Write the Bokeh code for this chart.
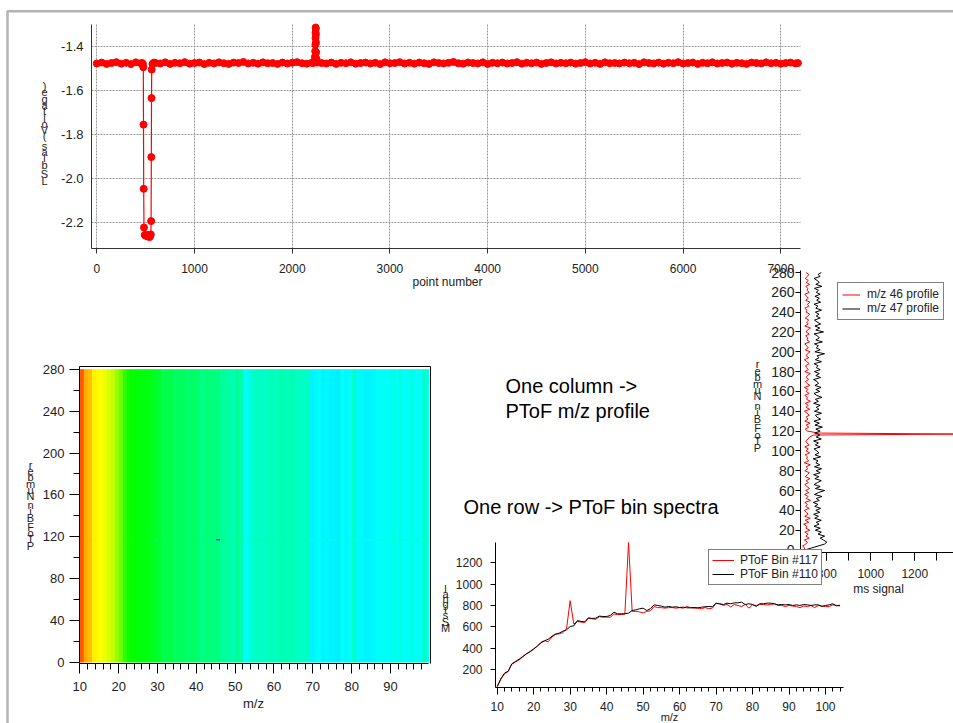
import colorsys
import numpy as np
from bokeh.plotting import figure
from bokeh.models import (Range1d, LinearAxis, Grid, SingleIntervalTicker, FixedTicker,
                          Label, BoxAnnotation, Legend, LegendItem, LinearColorMapper,
                          PrintfTickFormatter)
from bokeh.embed import file_html
from bokeh.resources import INLINE

# ---------------- data: top panel (signal vs point number) ----------------
band1_x = [0, 50, 100, 150, 200, 250, 300, 350, 400, 450]
band1_y = [-1.476, -1.472, -1.478, -1.474, -1.470, -1.477, -1.473, -1.479, -1.471, -1.475]
dip_x = [465, 472, 476, 478, 480, 483, 490, 500, 510, 520, 530, 540, 548, 553, 556, 558, 560, 562, 570, 585]
dip_y = [-1.474, -1.478, -1.493, -1.755, -2.048, -2.224, -2.258, -2.262, -2.258, -2.265,
         -2.260, -2.268, -2.262, -2.256, -2.195, -1.903, -1.634, -1.504, -1.478, -1.472]
band2_x = list(range(600, 2201, 50))
band2_y = [-1.474, -1.476, -1.471, -1.478, -1.473, -1.475, -1.470, -1.477, -1.474, -1.472,
           -1.479, -1.473, -1.476, -1.471, -1.475, -1.478, -1.472, -1.474, -1.469, -1.476,
           -1.473, -1.477, -1.471, -1.475, -1.474, -1.478, -1.472, -1.476, -1.473, -1.470,
           -1.475, -1.477, -1.473]
spike_x = [2215, 2225, 2230, 2233, 2235, 2237, 2238, 2239, 2240, 2241, 2242, 2243, 2245, 2248, 2255]
spike_y = [-1.474, -1.470, -1.462, -1.445, -1.420, -1.390, -1.360, -1.335, -1.312, -1.318,
           -1.345, -1.380, -1.425, -1.455, -1.472]
band3_x = list(range(2300, 7151, 50)) + [7175]
band3_y = [-1.474, -1.476, -1.472, -1.478, -1.473, -1.475, -1.471, -1.477, -1.474, -1.472,
           -1.476, -1.473, -1.479, -1.471, -1.475, -1.474, -1.470, -1.476, -1.473, -1.477,
           -1.472, -1.475, -1.478, -1.471, -1.474, -1.476, -1.473, -1.469, -1.475, -1.477,
           -1.472, -1.474, -1.476, -1.471, -1.478, -1.473, -1.475, -1.472, -1.476, -1.474,
           -1.470, -1.477, -1.473, -1.475, -1.472, -1.478, -1.474, -1.471, -1.476, -1.473,
           -1.475, -1.472, -1.477, -1.474, -1.470, -1.476, -1.473, -1.478, -1.471, -1.475,
           -1.474, -1.476, -1.472, -1.475, -1.473, -1.479, -1.471, -1.474, -1.476, -1.472,
           -1.477, -1.473, -1.475, -1.470, -1.476, -1.474, -1.472, -1.478, -1.473, -1.475,
           -1.471, -1.476, -1.474, -1.472, -1.477, -1.473, -1.475, -1.478, -1.472, -1.474,
           -1.476, -1.471, -1.475, -1.473, -1.477, -1.474, -1.472, -1.476, -1.474]
top_x = band1_x + dip_x + band2_x + spike_x + band3_x
top_y = band1_y + dip_y + band2_y + spike_y + band3_y

# ---------------- data: PToF bin spectra ----------------
spec_mz = list(range(10, 105))
bin110 = [40, 112, 166, 184, 253, 275, 297, 322, 347, 369,
          394, 419, 450, 469, 484, 512, 531, 541, 559, 572,
          603, 609, 659, 650, 647, 684, 678, 681, 700, 697,
          697, 706, 737, 722, 722, 722, 728, 753, 759, 769,
          775, 753, 769, 806, 800, 794, 784, 791, 784, 788,
          781, 784, 778, 778, 781, 778, 784, 788, 791, 788,
          822, 816, 809, 822, 816, 825, 825, 831, 809, 816,
          809, 791, 816, 816, 822, 822, 816, 806, 809, 806,
          809, 800, 806, 800, 809, 806, 800, 806, 806, 791,
          800, 806, 816, 797, 803]
bin117 = [40, 110, 160, 180, 250, 270, 290, 318, 345, 365,
          390, 420, 455, 470, 460, 505, 530, 535, 545, 580,
          845, 625, 650, 645, 640, 680, 675, 670, 695, 690,
          690, 690, 720, 715, 715, 720, 1390, 745, 745, 740,
          730, 745, 750, 790, 780, 780, 775, 780, 780, 775,
          780, 775, 790, 780, 775, 775, 770, 780, 770, 775,
          820, 815, 800, 810, 785, 810, 800, 790, 810, 775,
          805, 800, 810, 810, 805, 810, 815, 800, 800, 790,
          800, 795, 790, 780, 795, 790, 800, 780, 800, 795,
          790, 790, 805, 800, 795]

# ---------------- data: PToF m/z profiles ----------------
prof_bins = list(range(0, 117, 2)) + [117] + list(range(118, 281, 2))
prof46 = [695, 700, 690, 705, 712, 698, 720, 705, 715, 700,
          722, 705, 710, 695, 718, 702, 725, 700, 715, 708,
          698, 720, 704, 712, 700, 726, 706, 715, 699, 718,
          704, 722, 710, 700, 716, 706, 724, 702, 712, 720,
          700, 714, 706, 725, 698, 718, 708, 712, 702, 722,
          706, 716, 700, 720, 710, 704, 715, 722, 740,
          1420,
          760, 712, 702, 718, 706, 724, 700, 715, 705, 720,
          710, 698, 722, 705, 716, 702, 726, 708, 712, 700,
          720, 706, 714, 698, 724, 710, 702, 718, 706, 712,
          725, 700, 716, 708, 704, 720, 710, 698, 718, 706,
          712, 724, 702, 716, 708, 700, 722, 710, 714, 704,
          720, 706, 712, 726, 700, 716, 708, 718, 702, 714,
          722, 706, 710, 700, 718, 712, 724, 704, 716, 708,
          700, 720, 710, 714, 704, 722, 706, 716, 702, 712,
          718, 706]
prof47 = [700, 730, 760, 790, 800, 785, 770, 790, 760, 775,
          748, 770, 742, 765, 752, 775, 745, 762, 740, 768,
          750, 772, 745, 760, 738, 766, 752, 778, 744, 762,
          790, 748, 770, 742, 758, 775, 746, 764, 740, 770,
          752, 776, 744, 768, 750, 760, 738, 772, 746, 764,
          755, 742, 770, 748, 762, 740, 775, 752, 768,
          760,
          745, 770, 750, 780, 746, 766, 742, 772, 756, 748,
          776, 744, 764, 752, 770, 740, 762, 748, 778, 754,
          742, 768, 750, 774, 746, 762, 756, 740, 772, 750,
          766, 744, 770, 752, 760, 742, 776, 748, 764, 756,
          790, 746, 770, 752, 762, 744, 780, 750, 766, 758,
          742, 785, 750, 768, 746, 772, 756, 744, 770, 752,
          764, 748, 776, 750, 760, 742, 772, 754, 766, 746,
          770, 752, 762, 744, 778, 750, 766, 756, 742, 770,
          760, 775]

# heatmap: one row per PToF bin (0..280), columns m/z 11..100
heat_rows = [bin117 if b == 117 else bin110 for b in range(281)]
heat_img = np.array(heat_rows, dtype=float)[:, 1:91]

# ---------------- layout helpers (page pixel -> data ranges) ----------------
W, H = 953, 723
X0, Y0 = 0, 0


def lin(a, pa, b, pb):
    s = (pb - pa) / (b - a)
    return lambda pix: a + (pix - pa) / s


def hrange(f):
    return Range1d(f(X0), f(X0 + W))


def vrange(f):
    return Range1d(f(Y0 + H), f(Y0))


tx = lin(0, 96.3, 7000, 780.3)
ty = lin(-1.4, 46.3, -2.2, 221.7)
hx = lin(10, 79.3, 90, 390.0)
hy = lin(0, 662.0, 280, 368.7)
sx = lin(10, 496.7, 100, 825.0)
sy = lin(1200, 562.3, 200, 669.0)
qx = lin(1000, 870.3, 1200, 914.3)
qy = lin(0, 549.5, 280, 272.0)

p = figure(width=W, height=H, x_range=Range1d(X0, X0 + W), y_range=Range1d(Y0 + H, Y0),
           output_backend="svg", toolbar_location=None, min_border=0,
           x_axis_location=None, y_axis_location=None,
           outline_line_color=None, background_fill_color="white", border_fill_color="white")
p.center = []
p.extra_x_ranges = {"tx": hrange(tx), "hx": hrange(hx), "sx": hrange(sx), "qx": hrange(qx)}
p.extra_y_ranges = {"ty": vrange(ty), "hy": vrange(hy), "sy": vrange(sy), "qy": vrange(qy)}

FONT = "Liberation Sans"


def axis(xr, yr, side, loc, bounds, ticker, size="12px", tick_out=6, minor_out=4,
         standoff=5, color="black", fmt=None):
    ax = LinearAxis(x_range_name=xr, y_range_name=yr, fixed_location=loc, bounds=bounds,
                    ticker=ticker)
    ax.axis_line_color = color
    ax.major_tick_line_color = color
    ax.minor_tick_line_color = color
    ax.major_tick_in = 0
    ax.minor_tick_in = 0
    ax.major_tick_out = tick_out
    ax.minor_tick_out = minor_out
    ax.major_label_text_font = FONT
    ax.major_label_text_font_size = size
    ax.major_label_text_color = "#222222"
    ax.major_label_standoff = standoff
    if fmt is not None:
        ax.formatter = fmt
    p.add_layout(ax, side)
    return ax


# ---------------- top panel ----------------
tk_x = SingleIntervalTicker(interval=1000, num_minor_ticks=0)
tk_y = SingleIntervalTicker(interval=0.2, num_minor_ticks=0)
xb = (tx(91), tx(800))
yb = (ty(248), ty(24))
for dim, tk, b, cb in [(0, tk_x, xb, yb), (1, tk_y, yb, xb)]:
    p.add_layout(Grid(dimension=dim, ticker=tk, x_range_name="tx", y_range_name="ty",
                      bounds=b, cross_bounds=cb, grid_line_color="#9a9a9a",
                      grid_line_dash="2 1", grid_line_width=1))
axis("tx", "ty", "below", ty(248), xb, tk_x, size="12px", tick_out=5, standoff=10, color="#333333")
axis("tx", "ty", "left", tx(91), yb, tk_y, size="13px", tick_out=0, standoff=8, color="#333333",
     fmt=PrintfTickFormatter(format="%.1f"))
p.line(top_x, top_y, x_range_name="tx", y_range_name="ty", line_color="#ff0000", line_width=1.2)
p.scatter(top_x, top_y, x_range_name="tx", y_range_name="ty", size=7, marker="circle",
          fill_color="#ff0000", line_color="#ff0000")

# ---------------- heatmap ----------------
v_bp = [40, 112, 166, 250, 310, 370, 420, 470, 560, 640, 700, 740, 770, 795, 810, 1000, 1400]
h_bp = [0, 22, 42, 56, 62, 75, 95, 118, 124, 136, 145, 152, 160, 168, 180, 215, 240]
grid_v = np.linspace(40, 1400, 256)
pal = []
for hv in np.interp(grid_v, v_bp, h_bp):
    r, g, b = colorsys.hsv_to_rgb(hv / 360.0, 1.0, 1.0)
    pal.append("#%02x%02x%02x" % (int(r * 255), int(g * 255), int(b * 255)))
cmap = LinearColorMapper(palette=pal, low=40, high=1400)
p.image(image=[heat_img], x=10, y=0, dw=90, dh=280, color_mapper=cmap,
        x_range_name="hx", y_range_name="hy")
hyb = (hy(663.3), hy(366))
axis("hx", "hy", "below", hy(663.3), (hx(79), 99.9), SingleIntervalTicker(interval=10, num_minor_ticks=5),
     size="13px", tick_out=10, minor_out=6, standoff=8)
axis("hx", "hy", "left", hx(79), hyb, SingleIntervalTicker(interval=40, num_minor_ticks=2),
     size="13px", tick_out=10, minor_out=6, standoff=5)
axis("hx", "hy", "above", hy(366), (hx(79), hx(430)), FixedTicker(ticks=[]), tick_out=0, minor_out=0)
axis("hx", "hy", "right", hx(430), hyb, FixedTicker(ticks=[]), tick_out=0, minor_out=0)

# ---------------- spectra panel ----------------
r117 = p.line(spec_mz, bin117, x_range_name="sx", y_range_name="sy", line_color="#ff0000", line_width=1)
r110 = p.line(spec_mz, bin110, x_range_name="sx", y_range_name="sy", line_color="#000000", line_width=1)
axis("sx", "sy", "below", sy(686.7), (sx(495), sx(843.3)),
     SingleIntervalTicker(interval=10, num_minor_ticks=5), size="12px", tick_out=7, minor_out=4, standoff=8)
axis("sx", "sy", "left", sx(495), (sy(686.7), sy(542)),
     SingleIntervalTicker(interval=200, num_minor_ticks=0), size="12px", tick_out=5, standoff=8)

# ---------------- profile panel ----------------
r46 = p.line(prof46, prof_bins, x_range_name="qx", y_range_name="qy", line_color="#ff0000", line_width=1)
r47 = p.line(prof47, prof_bins, x_range_name="qx", y_range_name="qy", line_color="#000000", line_width=1)
axis("qx", "qy", "left", qx(800), (qy(552), qy(270)),
     SingleIntervalTicker(interval=20, num_minor_ticks=0), size="14px", tick_out=5, standoff=1)
axis("qx", "qy", "below", qy(552), (qx(800), qx(960)),
     SingleIntervalTicker(interval=200, num_minor_ticks=2), size="12px", tick_out=8, minor_out=8, standoff=8)


# ---------------- legends ----------------
def legend(items, loc, gw, gh, pad, stand):
    lg = Legend(items=items, location=loc, glyph_width=gw, glyph_height=gh, label_height=gh,
                padding=pad, spacing=0, margin=0, label_standoff=stand,
                label_text_font=FONT, label_text_font_size="12px", label_text_color="#222222",
                border_line_color="black", border_line_width=1, background_fill_color="white",
                background_fill_alpha=1.0)
    p.add_layout(lg)


legend([LegendItem(label="m/z 46 profile", renderers=[r46]),
        LegendItem(label="m/z 47 profile", renderers=[r47])], (837, H - 320), 18, 13, 4, 7)
legend([LegendItem(label="PToF Bin #117", renderers=[r117]),
        LegendItem(label="PToF Bin #110", renderers=[r110])], (708, H - 585), 22, 14, 3, 6)


# ---------------- texts ----------------
def text(x, y, s, size, align="left", color="#000000"):
    p.add_layout(Label(x=x, y=y, text=s, text_align=align, text_baseline="middle",
                       text_font=FONT, text_font_size=size, text_color=color))


text(447, 281, "point number", "12px", "center", "#222222")
text(253, 703, "m/z", "13px", "center", "#222222")
text(878, 588, "ms signal", "12px", "center", "#222222")
text(669, 716.5, "m/z", "11px", "center", "#222222")
text(505, 385, "One column ->", "20px")
text(505, 410, "PToF m/z profile", "20px")
text(463, 506, "One row -> PToF bin spectra", "20px")


def stacked(s, cx, y_bottom, step, size="11px"):
    pos = 0.0
    for ch in s:
        if ch == " ":
            pos += 0.5
            continue
        p.add_layout(Label(x=cx, y=y_bottom - pos * step, text=ch, text_align="center",
                           text_baseline="alphabetic", text_font=FONT, text_font_size=size,
                           text_color="#222222"))
        pos += 1


stacked("LS bias (Voltage)", 44, 180, 6.3)
stacked("PToF Bin Number", 30, 545, 6.2)
stacked("MS signal", 445, 627, 5.2)
stacked("PToF Bin Number", 757, 447, 6.4)

# ---------------- page frame ----------------
p.add_layout(BoxAnnotation(left=7, right=2000, top=10.8, bottom=2000, fill_alpha=0,
                           line_color="black", line_width=2.5))

open("out.html", "w").write(file_html(p, INLINE))
